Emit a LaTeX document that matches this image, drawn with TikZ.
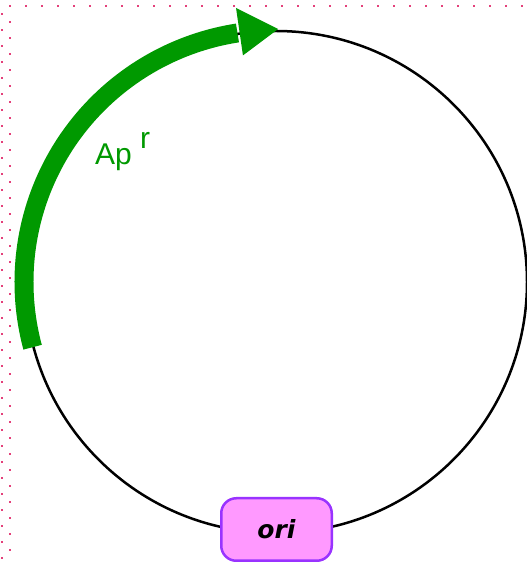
\documentclass[tikz,border=0pt]{standalone}
\usepackage{fontspec}
\newfontfamily\arialf{Liberation Sans}
\newfontfamily\dejavuf{DejaVu Sans}
\definecolor{apgreen}{RGB}{0,153,0}
\definecolor{oripink}{RGB}{255,153,255}
\definecolor{oriborder}{RGB}{153,51,255}
\definecolor{dotc}{RGB}{228,64,122}
\begin{document}
\begin{tikzpicture}[x=1pt,y=1pt,
  backbone/.style={line width=2.5pt,draw=black},
  genearc/.style={line width=19pt,draw=apgreen},
  oribox/.style={draw=oriborder,fill=oripink,line width=2.5pt,rounded corners=15pt,
    minimum width=110.5pt,minimum height=62.5pt,inner sep=0pt,
    font=\dejavuf\fontsize{25}{25}\selectfont\bfseries\itshape},
  genelabel/.style={text=apgreen,inner sep=0pt,font=\arialf\fontsize{30}{30}\selectfont},
  dotmark/.style={fill=dotc}]
\useasboundingbox (0,0) rectangle (527,563);
\fill[white] (0,0) rectangle (527,563);
% dotted frame
\foreach \i in {0,...,32} \fill[dotmark] ({8.75+16*\i},{563-7.25}) rectangle ++(2.5,2.5);
\foreach \k in {0,...,34} \fill[dotmark] (0.75,{563-15.25-16*\k}) rectangle ++(2.5,2.5);
\foreach \k in {0,...,33} \fill[dotmark] (8.75,{563-23.25-16*\k}) rectangle ++(2.5,2.5);
% plasmid backbone
\coordinate (C) at (276,281);
\draw[backbone] (C) circle[radius=251pt];
% Ap^r gene arrow
\draw[genearc] ([shift={(195:252)}]C) arc[start angle=195,end angle=98.8,radius=252pt];
\fill[apgreen] ([shift={(98.3:277)}]C) -- ([shift={(89.5:253)}]C) -- ([shift={(98.3:229)}]C) -- cycle;
\node[genelabel,anchor=base west] (ap) at (95,398) {Ap};
\node[genelabel,anchor=base west] (apr) at (140,414) {r};
% ori
\node[oribox] (ori) at (276.5,33.5) {ori};
\end{tikzpicture}
\end{document}
